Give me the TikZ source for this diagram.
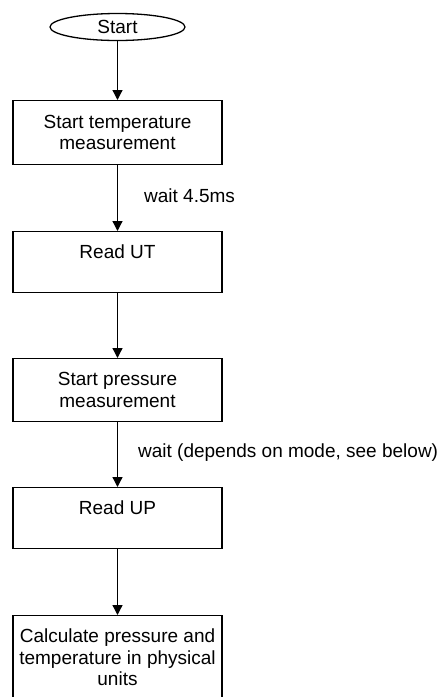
\documentclass[tikz,border=0pt]{standalone}
\usepackage{fontspec}
\setmainfont{Liberation Sans}
\usetikzlibrary{shapes.geometric,arrows.meta}

\begin{document}
\begin{tikzpicture}[x=1pt,y=-1pt,
  every node/.style={font=\fontsize{19}{21.5}\selectfont},
  box/.style={draw, line width=1.3pt, rectangle, anchor=north, minimum width=209pt, align=center, inner sep=0pt},
  flow/.style={draw, line width=1.3pt, -{Triangle[length=10pt,width=10pt]}},
  wait/.style={right, inner sep=0pt}]
\useasboundingbox (0,0) rectangle (443,697);
\node [draw, ellipse, line width=1.3pt, minimum width=135pt, minimum height=27pt, inner sep=0pt] (start) at (117.5,27) {Start};
\node [box, minimum height=64pt] (tempstart) at (117.5,100) {Start temperature\\measurement};
\node [box, minimum height=61pt] (readut) at (117.5,231) {Read UT\\\mbox{}};
\node [box, minimum height=63pt] (presstart) at (117.5,358) {Start pressure\\measurement};
\node [box, minimum height=61pt] (readup) at (117.5,487) {Read UP\\\mbox{}};
\node [box, minimum height=84pt] (calc) at (117.5,615) {Calculate pressure and\\temperature in physical\\units};
\draw [flow] (start) -- (tempstart);
\draw [flow] (tempstart) -- node [wait, xshift=26pt, yshift=2pt] {wait 4.5ms} (readut);
\draw [flow] (readut) -- (presstart);
\draw [flow] (presstart) -- node [wait, xshift=20pt, yshift=2pt] {wait (depends on mode, see below)} (readup);
\draw [flow] (readup) -- (calc);
\end{tikzpicture}
\end{document}
